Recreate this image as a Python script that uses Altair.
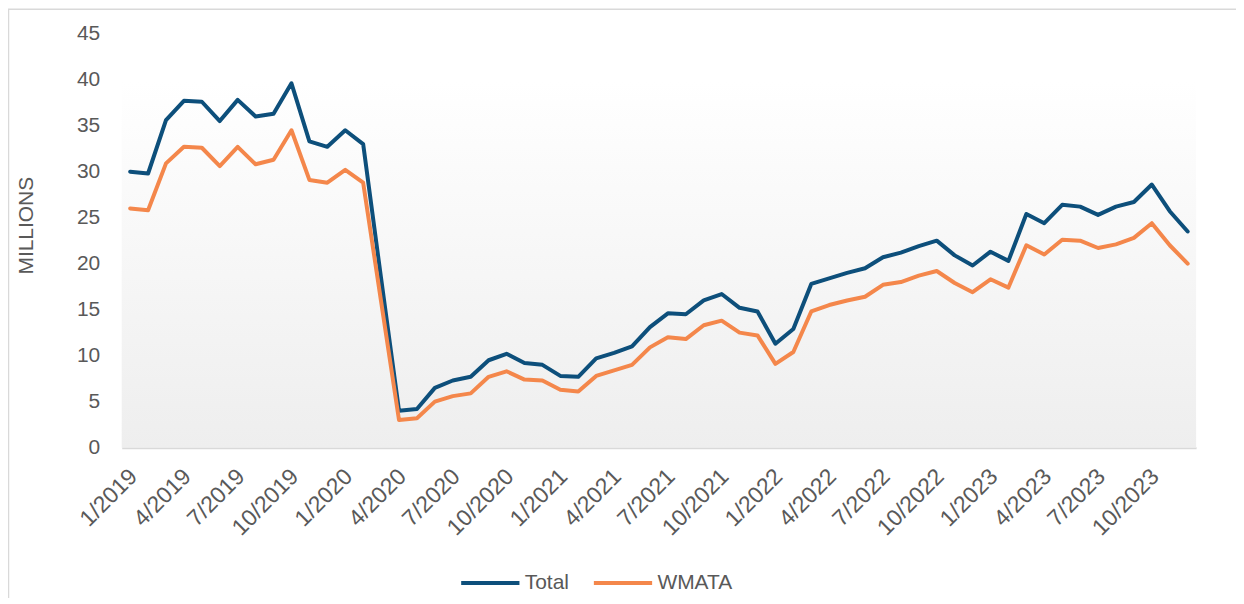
import altair as alt
import pandas as pd

months = [f"{m}/{y}" for y in range(2019, 2024) for m in range(1, 13)]
tick_labels = months[::3]

total = [30.0, 29.8, 35.6, 37.7, 37.6, 35.5, 37.8, 36.0, 36.3, 39.6, 33.3, 32.7,
         34.5, 33.0, 18.4, 4.0, 4.2, 6.5, 7.3, 7.7, 9.5, 10.2, 9.2, 9.0,
         7.8, 7.7, 9.7, 10.3, 11.0, 13.1, 14.6, 14.5, 16.0, 16.7, 15.2, 14.8,
         11.3, 12.9, 17.8, 18.4, 19.0, 19.5, 20.7, 21.2, 21.9, 22.5, 20.9, 19.8,
         21.3, 20.3, 25.4, 24.4, 26.4, 26.2, 25.3, 26.2, 26.7, 28.6, 25.7, 23.5]

wmata = [26.0, 25.8, 30.9, 32.7, 32.6, 30.6, 32.7, 30.8, 31.3, 34.5, 29.1, 28.8,
         30.2, 28.8, 15.9, 3.0, 3.2, 5.0, 5.6, 5.9, 7.7, 8.3, 7.4, 7.3,
         6.3, 6.1, 7.8, 8.4, 9.0, 10.9, 12.0, 11.8, 13.3, 13.8, 12.5, 12.2,
         9.1, 10.4, 14.8, 15.5, 16.0, 16.4, 17.7, 18.0, 18.7, 19.2, 17.9, 16.9,
         18.3, 17.4, 22.0, 21.0, 22.6, 22.5, 21.7, 22.1, 22.8, 24.4, 22.0, 20.0]

series_names = ["Total", "WMATA"]
series_colors = ["#0D4F7B", "#F4874B"]

rows = []
for name, vals in zip(series_names, [total, wmata]):
    for m, v in zip(months, vals):
        rows.append({"month": m, "value": v, "series": name})
df = pd.DataFrame(rows)

W, H = 1077, 415
FONT = "Liberation Sans"
GRAY = "#595959"

yscale = alt.Scale(domain=[0, 45], nice=False)

# plot-area band: light vertical gradient (Excel plot-area fill)
bg = alt.Chart(pd.DataFrame({"a": [0]})).mark_rect(
    strokeWidth=0,
    fill=alt.Gradient(
        gradient="linear",
        stops=[alt.GradientStop(color="#ffffff", offset=0),
               alt.GradientStop(color="#eeeeee", offset=1)],
        x1=0, x2=0, y1=0, y2=1,
    )
).encode(x=alt.value(0), x2=alt.value(W), y=alt.value(47), y2=alt.value(H))

border = alt.Chart(pd.DataFrame({"a": [0]})).mark_rect(
    fill="transparent", stroke="#d9d9d9", strokeWidth=1.5
).encode(x=alt.value(-113.5), x2=alt.value(W + 60), y=alt.value(-24.5), y2=alt.value(H + 200))

lines = alt.Chart(df).mark_line(strokeWidth=4, strokeCap="round", strokeJoin="round").encode(
    x=alt.X("month:O", sort=months,
            scale=alt.Scale(type="point", padding=0.47),
            axis=alt.Axis(values=tick_labels, title=None, labelAngle=315,
                          labelAlign="right", labelBaseline="middle",
                          labelPadding=25, labelOffset=3, ticks=False, domain=True,
                          domainColor="#d9d9d9", domainWidth=2,
                          labelFontSize=23, labelColor=GRAY, labelFont=FONT,
                          grid=False)),
    y=alt.Y("value:Q",
            scale=yscale,
            axis=alt.Axis(values=list(range(0, 50, 5)), title="MILLIONS",
                          domain=False, ticks=False, grid=False,
                          labelPadding=22, labelFontSize=21, labelColor=GRAY,
                          labelFont=FONT, titleFontSize=21, titleColor=GRAY,
                          titleFont=FONT, titleFontWeight="normal",
                          titleAngle=270, titleX=-95, titleY=192,
                          titleAlign="center", titleBaseline="middle")),
    color=alt.Color("series:N",
                    scale=alt.Scale(domain=series_names, range=series_colors),
                    legend=alt.Legend(title=None, orient="none", direction="horizontal",
                                      legendX=338, legendY=519,
                                      symbolType="stroke", symbolSize=3411,
                                      symbolStrokeWidth=4, labelOffset=3,
                                      columnPadding=16, labelFontSize=21,
                                      labelColor=GRAY, labelFont=FONT)),
    order=alt.Order("series:N"),
)

chart = alt.layer(border, bg, lines).properties(
    width=W, height=H,
    autosize=alt.AutoSizeParams(type="none"),
    padding={"left": 114, "top": 25, "right": 40, "bottom": 150},
).configure_view(strokeWidth=0, stroke="transparent").configure(
    font=FONT, style={"cell": {"stroke": "transparent", "strokeWidth": 0}}
)

chart.save("out.html", embed_options={"renderer": "svg", "actions": False})
